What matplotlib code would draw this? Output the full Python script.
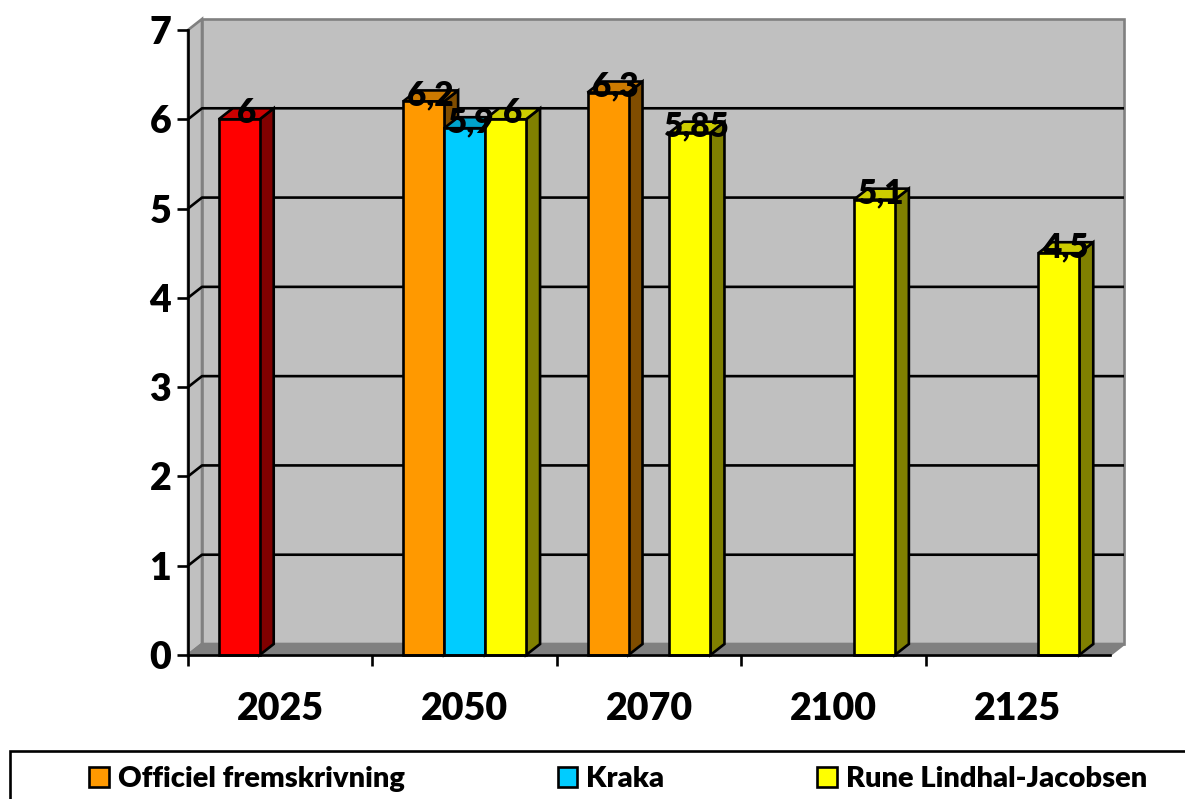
import numpy as np
import matplotlib
matplotlib.use("Agg")
import matplotlib.pyplot as plt
from matplotlib.patches import Polygon, Rectangle, Patch

years = ["2025", "2050", "2070", "2100", "2125"]
officiel = [6, 6.2, 6.3, np.nan, np.nan]
kraka = [np.nan, 5.9, np.nan, np.nan, np.nan]
rune = [np.nan, 6, 5.85, 5.1, 4.5]
series_names = ["Officiel fremskrivning", "Kraka", "Rune Lindhal-Jacobsen"]

W, H = 1185, 799
plt.rcParams["font.family"] = ["Lato", "DejaVu Sans"]

fig = plt.figure(figsize=(W / 100, H / 100), dpi=100)
ax = fig.add_axes([188 / W, 1 - 655 / H, 922 / W, 625 / H])
ax.set_xlim(0, 5)
ax.set_ylim(0, 7)
ax.patch.set_visible(False)

# depth of the fake 3d box, in data units
dx = 14 / 184.4
dy = 11 / 89.3
bar_w = 2 / 9
gap = 1 / 6
lw = 1.9


def poly(pts, fc, ec="black", z=3, lw=lw):
    ax.add_patch(Polygon(pts, closed=True, facecolor=fc, edgecolor=ec, lw=lw,
                         zorder=z, clip_on=False, joinstyle="miter"))


# walls and floor
poly([(0, 0), (dx, dy), (dx, 7 + dy), (0, 7)], "#c0c0c0", "#808080", 1)
poly([(dx, dy), (5 + dx, dy), (5 + dx, 7 + dy), (dx, 7 + dy)], "#c0c0c0", "#808080", 1)
poly([(0, 0), (5, 0), (5 + dx, dy), (dx, dy)], "#808080", "#808080", 1)

for v in range(1, 7):
    ax.plot([0, dx, 5 + dx], [v, v + dy, v + dy], color="black", lw=lw, zorder=2,
            clip_on=False, solid_capstyle="butt")


def bar3d(x, v, front, top, side, z):
    poly([(x + bar_w, 0), (x + bar_w + dx, dy), (x + bar_w + dx, v + dy), (x + bar_w, v)], side, z=z)
    poly([(x, v), (x + dx, v + dy), (x + bar_w + dx, v + dy), (x + bar_w, v)], top, z=z)
    poly([(x, 0), (x + bar_w, 0), (x + bar_w, v), (x, v)], front, z=z)


styles = [
    ("#ff9900", "#cc7a00", "#804d00"),
    ("#00ccff", "#00a3cc", "#006680"),
    ("#ffff00", "#cccc00", "#808000"),
]
red = ("#ff0000", "#cc0000", "#800000")

z = 3
labels = []
for i, vals in enumerate([officiel, kraka, rune]):
    for c, v in enumerate(vals):
        if np.isnan(v):
            continue
        x = c + gap + i * bar_w
        st = red if (i == 0 and c == 0) else styles[i]
        labels.append((c, i, x, v, st))

labels.sort(key=lambda t: t[2])
for c, i, x, v, st in labels:
    bar3d(x, v, st[0], st[1], st[2], z)
    z += 0.1

for c, i, x, v, st in labels:
    ax.text(x + bar_w / 2 + dx / 2, v + dy - 0.02, ("%g" % v).replace(".", ","), ha="center",
            va="center_baseline", fontsize=24, fontweight=800, color="black", zorder=10)

ax.set_xticks(range(5))
ax.set_xticklabels([])
ax.set_xticks(np.arange(5) + 0.5, years, minor=True)
ax.set_yticks(range(8))
ax.tick_params(axis="both", which="major", length=8, width=lw, color="black")
ax.tick_params(axis="x", which="minor", length=0, pad=27)
ax.tick_params(axis="y", pad=4)
for lab in ax.get_yticklabels() + ax.get_xticklabels(minor=True):
    lab.set_fontsize(27)
    lab.set_fontweight(800)

for s in ["top", "right"]:
    ax.spines[s].set_visible(False)
for s in ["left", "bottom"]:
    ax.spines[s].set_linewidth(lw)
    ax.spines[s].set_zorder(9)

# legend box runs off the right edge
fig.add_artist(Rectangle((10 / W, -0.01), 1.1, 1 - 751 / H + 0.01,
                         transform=fig.transFigure, facecolor="white", edgecolor="black", lw=lw))
handles = [Patch(facecolor=st[0], edgecolor="black", lw=lw) for st in styles]
leg = fig.legend(handles, series_names, loc="center left", bbox_to_anchor=(89 / W, 1 - 779 / H),
                 ncol=3, frameon=False, borderpad=0, borderaxespad=0,
                 handlelength=0.68, handleheight=0.68, handletextpad=0.3, columnspacing=5.25,
                 prop={"weight": 800, "size": 21})

fig.savefig("out.png", dpi=100)
